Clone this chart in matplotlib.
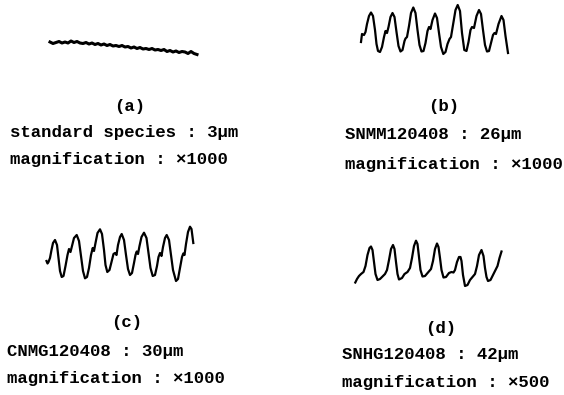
import matplotlib.pyplot as plt

# traces, in picture pixels (x right, y down)
a_x = list(range(50, 198, 3))
a_y = [42.0, 43.5, 42.5, 41.5, 43.0, 42.0, 43.0, 41.0, 42.5, 41.5,
       43.0, 43.5, 42.5, 44.0, 43.0, 44.5, 43.5, 45.0, 44.0, 45.5,
       44.5, 46.0, 45.5, 46.5, 45.5, 47.0, 46.5, 48.0, 47.0, 48.5,
       47.5, 49.0, 48.5, 49.5, 48.5, 50.0, 49.5, 50.5, 49.5, 51.5,
       50.5, 52.0, 51.0, 52.5, 51.5, 52.0, 53.5, 51.5, 53.5, 54.5]

b_x = [361, 362, 364, 365.5, 367, 369, 371, 373, 375, 376.5, 378, 380, 382, 384,
       385.5, 387, 388.5, 390.5, 392.5, 394.5, 396.5, 398.5, 400.5, 402.5, 404.5,
       405.5, 407, 409, 411, 413.3, 415.5, 417.5, 419.5, 421.5, 423.5, 425.5,
       427.5, 429, 430.5, 432.5, 435, 437, 439, 441, 443.3, 445.5, 447.5, 449.5,
       451, 453, 455.5, 457.7, 460, 462, 464.3, 466.5, 468.5, 470.5, 472, 474,
       476.5, 479, 481, 483, 485, 487, 489, 491, 493, 494.5, 496, 498.5, 501.5,
       503.5, 505.5, 508]
b_y = [42, 34, 35, 32, 24, 16, 12.5, 16, 30, 44, 51, 52, 47, 37,
       31, 33, 27, 17, 13, 17, 32, 46, 51.5, 50, 41,
       38.5, 37, 26, 13, 7.5, 13, 30, 45, 51.5, 51, 43,
       31, 27, 29, 20, 13.5, 18, 33, 47, 54, 52, 44, 39,
       37, 25, 10, 5, 11, 33, 50, 51, 42, 30, 27, 28,
       16, 10, 14, 30, 45, 51.5, 51, 43, 35, 33, 34, 24, 16,
       20, 36, 53]

c_x = [46.5, 47.5, 48.5, 50, 51.5, 53, 55, 57, 58.5, 60, 61.7, 63.5, 65.5, 67.5,
       69, 70.5, 72, 74, 76.7, 79, 81, 83, 85, 87, 89, 91, 92.7, 94, 95.5, 97.5,
       100, 102, 104, 105.5, 107.3, 109.5, 111.5, 113.5, 115, 116.5, 118, 120,
       121.7, 124, 126, 128, 130, 132, 134, 135.5, 136.7, 138, 139.5, 141.5, 144,
       146.5, 148.5, 150.5, 152.7, 155, 157, 158.5, 160, 161.5, 163, 165, 166.7,
       169, 171, 173, 176, 178, 180, 182, 183.3, 184.5, 186, 188, 190, 191.5, 193.3]
c_y = [261, 263.5, 262, 258, 250, 243, 240, 245, 258, 271, 277, 276, 266, 255,
       249, 252, 246, 238, 235, 241, 256, 271, 278.3, 277, 268, 255, 248, 251, 243, 233,
       229.3, 234, 250, 265, 272, 270, 262, 254, 253, 255, 245, 237,
       234, 240, 255, 269, 275, 273, 263, 255, 251.5, 254, 246, 237, 232.7,
       238, 253, 268, 276, 275, 266, 257, 253, 256, 247, 238, 235,
       240, 255, 270, 281, 279, 268, 257, 253.5, 255, 244, 232, 226.7, 229, 243]

d_x = [355.3, 357, 359, 361, 363.5, 365.5, 367.5, 369.5, 371, 372.5, 374, 375.5,
       377.5, 380, 382.5, 385, 387, 389, 391, 393, 394.5, 396, 397.5, 399, 402,
       404.5, 407.5, 410, 412, 414, 416, 417.5, 419, 420.5, 422.5, 425, 428, 431,
       433, 435, 437, 438.5, 440, 441.5, 443.5, 446, 449, 451.5, 453.5, 455, 457,
       459, 460.5, 461.5, 463, 465, 467.5, 470, 472.5, 475, 477, 479, 481.5, 483.5,
       485, 486.5, 488, 490.5, 493, 495.5, 497.5, 499.5, 501.5]
d_y = [282.5, 279, 276, 274, 272, 266, 255, 248, 246.5, 250, 262, 274,
       280, 279, 276.5, 274, 270, 260, 249, 245, 249, 262, 274, 279.5, 278,
       274, 272, 268, 258, 246, 240.7, 244, 257, 270, 276.5, 276, 272.5, 269,
       261, 249, 243.5, 247, 258, 270, 277.5, 277, 273, 272, 272.5, 270, 262,
       257, 257, 261, 275, 286, 285, 280, 277, 274, 266, 255, 250, 256,
       268, 277, 281, 280, 275, 270, 266, 258, 251.5]

tags = ['(a)', '(b)', '(c)', '(d)']
names = ['standard species : 3\u03bcm', 'SNMM120408 : 26\u03bcm',
         'CNMG120408 : 30\u03bcm', 'SNHG120408 : 42\u03bcm']
mags = ['\u00d71000', '\u00d71000', '\u00d71000', '\u00d7500']

fig = plt.figure(figsize=(5.64, 3.95), dpi=100)
ax = fig.add_axes([0, 0, 1, 1])
ax.set_xlim(0, 564)
ax.set_ylim(395, 0)
ax.axis('off')

ax.plot(a_x, a_y, color='black', lw=2.2)
for xs, ys in [(b_x, b_y), (c_x, c_y), (d_x, d_y)]:
    ax.plot(xs, ys, color='black', lw=1.6)

font = dict(family='Liberation Mono', weight='bold', size=12.5, color='black')

# tag centre, text left edge, text rows
tag_pos = [(130, 106), (443.5, 106), (126.5, 323), (441, 328)]
left = [10, 345, 7, 342]
rows = [(132.5, 159.5), (135, 164), (351.5, 378.5), (355, 382.5)]

for i in range(4):
    ax.text(tag_pos[i][0], tag_pos[i][1], tags[i], ha='center', va='center', **font)
    ax.text(left[i], rows[i][0], names[i], ha='left', va='center', **font)
    ax.text(left[i], rows[i][1], 'magnification : ' + mags[i], ha='left', va='center', **font)

fig.savefig('out.png', dpi=100)
